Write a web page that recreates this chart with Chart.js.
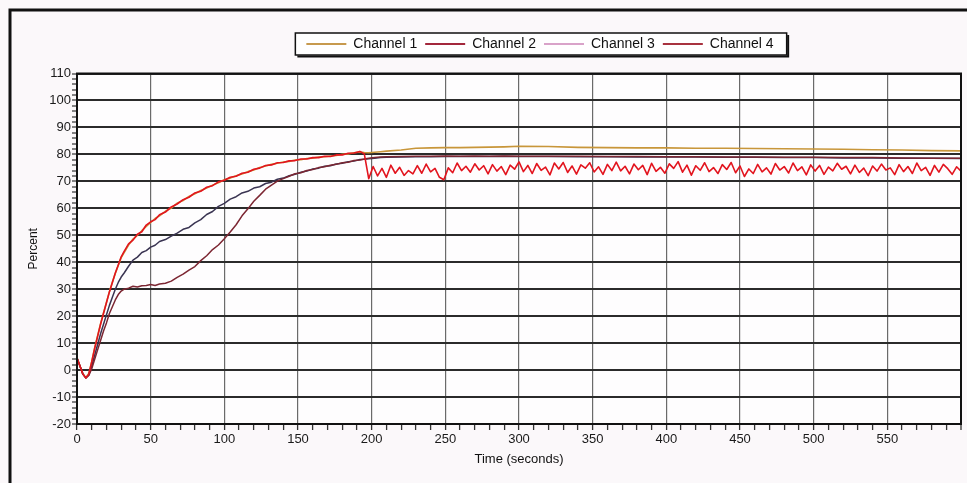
<!DOCTYPE html>
<html>
<head>
<meta charset="utf-8">
<script src="https://cdn.jsdelivr.net/npm/chart.js@4.4.1/dist/chart.umd.min.js"></script>
<style>
  html, body { margin: 0; padding: 0; background: #fbf8fa; }
  #wrap { position: relative; width: 967px; height: 483px; }
</style>
</head>
<body>
<div id="wrap"><canvas id="grafico" width="967" height="483"></canvas></div>
<script>
// Tempos (s) da subida inicial, comuns a todos os canais
const temposInicio = [0, 2, 4, 6, 8, 10, 12, 14, 16, 18, 20, 22, 24, 26, 28, 30, 32, 35, 38, 41, 44, 47, 50, 53, 56,
  60, 64, 68, 72, 76, 80, 84, 88, 92, 96, 100, 104, 108, 112, 116, 120, 124, 128, 132, 136, 140, 144, 148, 152, 156,
  160, 164, 168, 172, 176, 180, 184, 188, 192, 195];

// Tempos depois do patamar para os canais 1 a 3
const temposFim = [198, 202, 206, 210, 220, 230, 240, 250, 260, 270, 280, 290, 300, 320, 340, 360, 380, 400, 420, 440,
  460, 480, 500, 520, 540, 560, 580, 600];

// Tempos do trecho ruidoso do canal 4
const temposRuido = [198, 201, 204, 207, 210, 213, 216, 219, 222, 225, 228, 231, 234, 237, 240, 243, 246, 249, 252, 255,
  258, 261, 264, 267, 270, 273, 276, 279, 282, 285, 288, 291, 294, 297, 300, 303, 306, 309, 312, 315, 318, 321, 324, 327,
  330, 333, 336, 339, 342, 345, 348, 351, 354, 357, 360, 363, 366, 369, 372, 375, 378, 381, 384, 387, 390, 393, 396, 399,
  402, 405, 408, 411, 414, 417, 420, 423, 426, 429, 432, 435, 438, 441, 444, 447, 450, 453, 456, 459, 462, 465, 468, 471,
  474, 477, 480, 483, 486, 489, 492, 495, 498, 501, 504, 507, 510, 513, 516, 519, 522, 525, 528, 531, 534, 537, 540, 543,
  546, 549, 552, 555, 558, 561, 564, 567, 570, 573, 576, 579, 582, 585, 588, 591, 594, 597, 600];

const canal1 = [4.5, 1.6, -1.4, -2.8, -1.3, 3.2, 8.3, 12.8, 17.2, 21.3, 25.2, 29.1, 32.6, 35.8, 38.8, 41.7, 43.6, 46.4,
  48.6, 50.0, 51.7, 53.3, 54.8, 56.2, 57.2, 58.9, 60.1, 61.9, 62.9, 64.4, 65.4, 66.6, 67.5, 68.6, 69.5, 70.6, 71.2, 72.1,
  72.7, 73.6, 74.2, 75.1, 75.7, 76.3, 76.7, 77.2, 77.4, 77.9, 78.0, 78.5, 78.6, 79.0, 79.1, 79.4, 79.6, 80.0, 80.2, 80.6,
  80.9, 80.7,
  80.6, 80.8, 81.0, 81.2, 81.6, 82.3, 82.4, 82.5, 82.5, 82.6, 82.7, 82.8, 83.0, 82.9, 82.6, 82.5, 82.4, 82.4, 82.3, 82.3,
  82.2, 82.1, 82.0, 81.9, 81.7, 81.6, 81.4, 81.3];

const canal2 = [4.5, 1.5, -1.5, -2.9, -2.0, 0.5, 4.0, 7.5, 11.0, 14.5, 17.5, 21.0, 23.5, 26.0, 28.0, 29.3, 30.0, 30.4,
  31.1, 30.8, 31.3, 31.4, 31.7, 31.4, 31.9, 32.2, 33.0, 34.4, 35.6, 37.1, 38.4, 40.6, 42.4, 44.7, 46.4, 48.7, 51.2, 53.9,
  57.2, 59.8, 62.6, 64.8, 67.1, 68.6, 70.1, 71.0, 71.9, 72.8, 73.2, 74.0, 74.4, 75.1, 75.4, 76.0, 76.3, 76.9, 77.1, 77.7,
  77.9, 78.3,
  78.6, 78.8, 79.0, 79.1, 79.2, 79.3, 79.3, 79.4, 79.3, 79.4, 79.3, 79.4, 79.3, 79.3, 79.3, 79.2, 79.2, 79.1, 79.1, 79.0,
  79.0, 78.9, 78.9, 78.8, 78.8, 78.7, 78.6, 78.6];

const canal3 = [4.5, 1.5, -1.5, -2.9, -1.8, 1.5, 5.5, 9.5, 13.5, 17.0, 20.5, 24.0, 27.0, 30.0, 32.5, 34.5, 36.0, 38.5,
  40.8, 41.9, 43.6, 44.3, 45.6, 46.3, 47.7, 48.4, 49.7, 50.8, 52.2, 52.9, 54.6, 55.8, 57.7, 58.8, 60.7, 61.8, 63.4, 64.3,
  65.7, 66.3, 67.5, 68.0, 69.2, 69.7, 70.8, 71.2, 72.1, 72.6, 73.4, 73.8, 74.6, 74.9, 75.6, 75.8, 76.4, 76.7, 77.3, 77.5,
  78.1, 78.2,
  78.4, 78.6, 78.8, 78.9, 79.0, 79.1, 79.1, 79.2, 79.2, 79.2, 79.2, 79.3, 79.2, 79.2, 79.1, 79.1, 79.0, 79.0, 79.0, 78.9,
  78.9, 78.8, 78.8, 78.7, 78.7, 78.6, 78.6, 78.5];

const canal4Inicio = [4.5, 1.5, -1.5, -2.9, -1.5, 3.0, 8.0, 12.5, 17.0, 21.0, 25.0, 29.0, 32.5, 36.0, 39.0, 42.0, 44.0,
  46.8, 48.2, 50.4, 51.3, 53.8, 55.0, 55.8, 57.6, 58.6, 60.5, 61.6, 63.2, 64.1, 65.7, 66.3, 67.8, 68.4, 69.8, 70.4, 71.5,
  71.9, 73.0, 73.4, 74.5, 74.9, 75.9, 76.1, 76.9, 77.0, 77.6, 77.7, 78.3, 78.3, 78.8, 78.8, 79.3, 79.2, 79.8, 79.8, 80.4,
  80.5, 81.1, 80.2];

const canal4Ruido = [71.0, 75.5, 72.0, 74.8, 71.5, 76.0, 73.0, 75.2, 72.2, 74.0,
  72.8, 75.8, 73.0, 76.4, 73.5, 74.8, 71.5, 70.6, 75.0, 73.2,
  76.8, 74.0, 75.6, 73.4, 76.5, 74.2, 75.8, 72.8, 76.2, 73.8,
  75.5, 72.5, 76.0, 74.5, 77.2, 73.6, 75.9, 72.9, 76.6, 74.1,
  75.3, 72.4, 76.8, 74.6, 77.0, 73.3, 75.7, 72.7, 76.1, 74.9,
  76.9, 73.5, 75.4, 72.6, 76.3, 74.0, 77.1, 73.9, 75.6, 72.8,
  76.4, 74.3, 75.9, 72.5, 76.7, 73.7, 75.2, 73.0, 76.5, 74.8,
  77.3, 73.4, 76.0, 72.3, 75.8, 74.1, 76.9, 73.6, 75.1, 72.9,
  76.2, 74.4, 77.0, 73.2, 75.7, 71.8, 74.6, 72.9, 76.3, 73.5,
  75.0, 72.7, 76.6, 74.2, 75.5, 73.1, 76.8, 74.0, 75.4, 72.4,
  76.1, 73.8, 75.9, 72.6, 75.3, 73.9, 76.7, 74.5, 75.6, 72.8,
  76.0, 73.3, 74.9, 72.1, 75.7, 73.8, 76.4, 74.2, 75.0, 72.5,
  76.2, 73.6, 75.5, 72.9, 76.8, 74.0, 75.2, 72.2, 75.9, 73.4,
  76.3, 74.7, 72.6, 75.4, 73.8];

const nomesCanais = ['Channel 1', 'Channel 2', 'Channel 3', 'Channel 4'];
const coresLinha = ['#c8963a', '#7c2632', '#3a3452', '#e2141e'];
const coresLegenda = ['#c79a4e', '#a3283c', '#d9a3c9', '#a8323f'];

function pares(tempos, valores) {
  return tempos.map((t, i) => ({ x: t, y: valores[i] }));
}

const temposLongos = temposInicio.concat(temposFim);

// fundo do papel, moldura e caixa da legenda
const moldura = {
  id: 'moldura',
  afterUpdate(chart) {
    const lg = chart.legend;
    if (!lg || !lg.legendHitBoxes || !lg.legendHitBoxes.length) return;
    const hb = lg.legendHitBoxes;
    const esq = Math.min(...hb.map(b => b.left));
    const dir = Math.max(...hb.map(b => b.left + b.width));
    const dx = 540 - (esq + dir) / 2;
    const dy = 44 - (hb[0].top + hb[0].height / 2);
    lg.left += dx; lg.right += dx; lg.top += dy; lg.bottom += dy;
    hb.forEach(b => { b.left += dx; b.top += dy; });
    chart.$caixa = { l: esq + dx - 11, r: dir + dx + 13, t: 44 - 11, b: 44 + 11 };
  },
  beforeDraw(chart) {
    const { ctx, chartArea: a } = chart;
    ctx.save();
    ctx.fillStyle = '#fbf8fa';
    ctx.fillRect(0, 0, chart.width, chart.height);
    ctx.fillStyle = '#fefdfe';
    ctx.fillRect(a.left, a.top, a.right - a.left, a.bottom - a.top);
    const c = chart.$caixa;
    if (c) {
      ctx.fillStyle = '#ffffff';
      ctx.fillRect(c.l, c.t, c.r - c.l, c.b - c.t);
    }
    ctx.restore();
  },
  afterDraw(chart) {
    const { ctx, chartArea: a } = chart;
    ctx.save();
    ctx.strokeStyle = '#111';
    ctx.lineWidth = 2;
    ctx.strokeRect(a.left, a.top, a.right - a.left, a.bottom - a.top);
    const c = chart.$caixa;
    if (c) {
      ctx.lineWidth = 1.5;
      ctx.strokeRect(c.l, c.t, c.r - c.l, c.b - c.t);
      ctx.lineWidth = 2;
      ctx.beginPath();
      ctx.moveTo(c.l + 2, c.b + 1.5);
      ctx.lineTo(c.r + 1.5, c.b + 1.5);
      ctx.lineTo(c.r + 1.5, c.t + 2);
      ctx.stroke();
    }
    ctx.lineWidth = 3;
    ctx.beginPath();
    ctx.moveTo(10, chart.height);
    ctx.lineTo(10, 10);
    ctx.lineTo(chart.width, 10);
    ctx.stroke();
    ctx.restore();
  }
};

const fonte = { family: 'Arial, "Liberation Sans", sans-serif', size: 13 };

new Chart(document.getElementById('grafico'), {
  type: 'line',
  data: {
    datasets: [
      { label: nomesCanais[0], data: pares(temposLongos, canal1), borderColor: coresLinha[0], borderWidth: 1.6, order: 3 },
      { label: nomesCanais[1], data: pares(temposLongos, canal2), borderColor: coresLinha[1], borderWidth: 1.5, order: 1 },
      { label: nomesCanais[2], data: pares(temposLongos, canal3), borderColor: coresLinha[2], borderWidth: 1.5, order: 2 },
      { label: nomesCanais[3], data: pares(temposInicio.concat(temposRuido), canal4Inicio.concat(canal4Ruido)),
        borderColor: coresLinha[3], borderWidth: 1.6, order: 0 }
    ]
  },
  options: {
    responsive: false,
    animation: false,
    layout: { padding: { left: 26, right: 6, top: 41.5, bottom: 0 } },
    elements: { point: { radius: 0 }, line: { tension: 0, borderJoinStyle: 'round' } },
    plugins: {
      tooltip: { enabled: false },
      legend: {
        labels: {
          usePointStyle: true,
          pointStyle: 'line',
          pointStyleWidth: 40,
          padding: 8,
          color: '#111',
          font: { family: fonte.family, size: 14 },
          sort: (a, b) => a.datasetIndex - b.datasetIndex,
          generateLabels(chart) {
            const itens = Chart.defaults.plugins.legend.labels.generateLabels(chart);
            itens.forEach(it => {
              it.strokeStyle = coresLegenda[it.datasetIndex];
              it.fillStyle = coresLegenda[it.datasetIndex];
              it.lineWidth = 2;
            });
            return itens;
          }
        }
      }
    },
    scales: {
      x: {
        type: 'linear',
        min: 0,
        max: 600,
        afterFit: s => { s.height = 59; },
        ticks: {
          stepSize: 10,
          autoSkip: false,
          maxRotation: 0,
          padding: 2,
          color: '#1a1a1a',
          font: fonte,
          callback: v => (v % 50 === 0 && v < 600) ? String(v) : ''
        },
        grid: {
          color: ctx => ctx.tick.value % 50 === 0 ? (ctx.tick.value === 600 ? '#111' : '#6a6a6a') : 'rgba(0,0,0,0)',
          lineWidth: ctx => ctx.tick.value === 600 ? 2 : 1.2,
          tickColor: '#333',
          tickLength: 6,
          tickWidth: 1.3
        },
        border: { color: '#111', width: 2 },
        title: { display: true, text: 'Time (seconds)', color: '#111', font: fonte, padding: { top: 0, bottom: 16 } }
      },
      y: {
        min: -20,
        max: 110,
        afterFit: s => { s.width = 51; },
        ticks: {
          stepSize: 2,
          autoSkip: false,
          padding: 1,
          color: '#1a1a1a',
          font: fonte,
          callback: v => v % 10 === 0 ? String(v) : ''
        },
        grid: {
          color: ctx => ctx.tick.value % 10 === 0 ? '#2b2b2b' : 'rgba(0,0,0,0)',
          lineWidth: 2,
          tickColor: '#333',
          tickLength: 5,
          tickWidth: 1.2
        },
        border: { color: '#111', width: 2 },
        title: { display: true, text: 'Percent', color: '#111', font: { family: fonte.family, size: 12 }, padding: 0 }
      }
    }
  },
  plugins: [moldura]
});
</script>
</body>
</html>
